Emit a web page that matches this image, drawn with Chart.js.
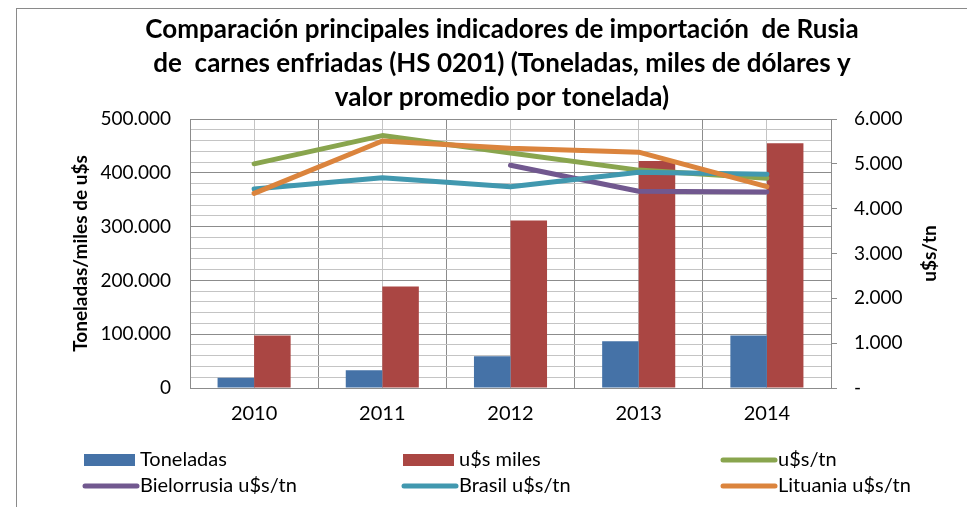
<!DOCTYPE html>
<html><head><meta charset="utf-8">
<script src="https://cdn.jsdelivr.net/npm/chart.js@4/dist/chart.umd.min.js"></script>
<style>html,body{margin:0;padding:0;background:#fff;overflow:hidden}canvas{display:block}</style>
</head><body>
<canvas id="c" width="967" height="507"></canvas>
<script>
// ---- data ----
const categories = ['2010', '2011', '2012', '2013', '2014'];
const toneladas   = [19000, 33000, 59000, 87000, 97500];
const usdMiles    = [97500, 188500, 311500, 422000, 455000];
const usdTn       = [5000, 5630, 5240, 4860, 4680];
const bielorrusia = [null, null, 4970, 4390, 4370];
const brasil      = [4440, 4690, 4490, 4810, 4770];
const lituania    = [4340, 5510, 5350, 5260, 4490];
const seriesLabels = ['Toneladas', 'u$s miles', 'u$s/tn', 'Bielorrusia u$s/tn', 'Brasil u$s/tn', 'Lituania u$s/tn'];
const titleLines = [
  'Comparación principales indicadores de importación  de Rusia',
  'de  carnes enfriadas (HS 0201) (Toneladas, miles de dólares y',
  'valor promedio por tonelada)'
];
const leftAxisTitle = 'Toneladas/miles de u$s';
const rightAxisTitle = 'u$s/tn';
const leftMax = 500000, leftMajor = 100000, leftMinor = 20000;
const rightMax = 6000, rightStep = 1000;

// ---- style ----
const FONT = 'Lato';
const COLORS = ['#4572A7', '#AA4643', '#89A54E', '#71588F', '#4198AF', '#DB843D'];
const MAJOR = '#8c8c8c', MINOR = '#c4c4c4';

function fmt(v) {
  return String(Math.round(v)).replace(/\B(?=(\d{3})+(?!\d))/g, '.');
}

const bgAndBorder = {
  id: 'bgAndBorder',
  beforeDraw(chart) {
    const ctx = chart.ctx;
    ctx.save();
    ctx.fillStyle = '#fff';
    ctx.fillRect(0, 0, chart.width, chart.height);
    ctx.strokeStyle = '#8a8a8a';
    ctx.lineWidth = 1;
    ctx.strokeRect(16.5, 8.5, 2000, 2000);
    ctx.restore();
  }
};

const extras = {
  id: 'extras',
  afterDraw(chart) {
    const ctx = chart.ctx;
    ctx.save();
    // right axis title, reading bottom-to-top like the left one
    const ca = chart.chartArea;
    ctx.font = 'bold 19px ' + FONT;
    ctx.fillStyle = '#000';
    ctx.textAlign = 'center';
    ctx.textBaseline = 'middle';
    ctx.translate(930, (ca.top + ca.bottom) / 2);
    ctx.rotate(-Math.PI / 2);
    ctx.fillText(rightAxisTitle, 0, 0);
    ctx.restore();

    // legend in a 3-column grid
    const cols = [84, 403, 722], rows = [460, 486];
    ctx.save();
    ctx.font = '20px ' + FONT;
    ctx.textBaseline = 'middle';
    ctx.textAlign = 'left';
    chart.data.datasets.forEach((ds, i) => {
      const x = cols[i % 3], y = rows[Math.floor(i / 3)];
      if (ds.type === 'bar') {
        ctx.fillStyle = ds.backgroundColor;
        ctx.fillRect(x, y - 6, 51, 12);
      } else {
        ctx.strokeStyle = ds.borderColor;
        ctx.lineWidth = 5;
        ctx.lineCap = 'round';
        ctx.beginPath();
        ctx.moveTo(x + 1, y);
        ctx.lineTo(x + 53, y);
        ctx.stroke();
      }
      ctx.fillStyle = '#000';
      ctx.fillText(ds.label, x + 56, y);
    });
    ctx.restore();
  }
};

const lineDs = (label, data, color, order) => ({
  type: 'line', label, data, borderColor: color, backgroundColor: color,
  borderWidth: 5, pointRadius: 0, tension: 0, yAxisID: 'y1', order,
  borderCapStyle: 'round', borderJoinStyle: 'round', spanGaps: false
});

new Chart(document.getElementById('c'), {
  data: {
    labels: categories,
    datasets: [
      { type: 'bar', label: seriesLabels[0], data: toneladas, backgroundColor: COLORS[0], yAxisID: 'y', order: 10, categoryPercentage: 0.57, barPercentage: 1 },
      { type: 'bar', label: seriesLabels[1], data: usdMiles, backgroundColor: COLORS[1], yAxisID: 'y', order: 11, categoryPercentage: 0.57, barPercentage: 1 },
      lineDs(seriesLabels[2], usdTn, COLORS[2], 6),
      lineDs(seriesLabels[3], bielorrusia, COLORS[3], 5),
      lineDs(seriesLabels[4], brasil, COLORS[4], 4),
      lineDs(seriesLabels[5], lituania, COLORS[5], 3)
    ]
  },
  options: {
    responsive: false,
    animation: false,
    events: [],
    layout: { padding: { left: 37, right: 0, top: 0, bottom: 0 } },
    plugins: {
      legend: { display: false },
      tooltip: { enabled: false },
      title: {
        display: true,
        text: titleLines,
        color: '#000',
        font: { family: FONT, size: 26, weight: 'bold', lineHeight: '34px' },
        padding: { top: 13, bottom: 4 }
      }
    },
    scales: {
      x: {
        type: 'category',
        offset: true,
        grid: { offset: true, drawTicks: false, color: MAJOR, lineWidth: 1 },
        border: { display: true, color: MAJOR, width: 1 },
        ticks: { color: '#000', padding: 14, font: { family: FONT, size: 20 } },
        afterFit(s) { s.height = 119; }
      },
      x2: {
        type: 'category',
        labels: categories,
        position: 'bottom',
        offset: true,
        grid: { offset: false, drawTicks: false, color: MINOR, lineWidth: 1 },
        border: { display: false },
        ticks: { display: false },
        afterFit(s) { s.height = 0; }
      },
      y: {
        position: 'left',
        min: 0, max: leftMax,
        grid: {
          drawTicks: false,
          color: c => (c.tick && c.tick.value % leftMajor === 0) ? MAJOR : MINOR,
          lineWidth: 1
        },
        border: { display: true, color: MAJOR, width: 1 },
        ticks: {
          stepSize: leftMinor, autoSkip: false, padding: 19, color: '#000',
          font: { family: FONT, size: 19 },
          callback: v => (v % leftMajor === 0) ? fmt(v) : ''
        },
        title: {
          display: true, text: leftAxisTitle, color: '#000',
          font: { family: FONT, size: 19, weight: 'bold' },
          padding: { top: 32, bottom: 0 }
        },
        afterFit(s) { s.width = 153; }
      },
      y1: {
        position: 'right',
        min: 0, max: rightMax,
        grid: { drawOnChartArea: false, drawTicks: true, tickLength: 6, tickColor: MAJOR },
        border: { display: true, color: MAJOR, width: 1 },
        ticks: {
          stepSize: rightStep, padding: 17, color: '#000',
          font: { family: FONT, size: 19 },
          callback: v => v === 0 ? '-' : fmt(v)
        },
        afterFit(s) { s.width = 136; }
      }
    }
  },
  plugins: [bgAndBorder, extras]
});
</script>
</body></html>
